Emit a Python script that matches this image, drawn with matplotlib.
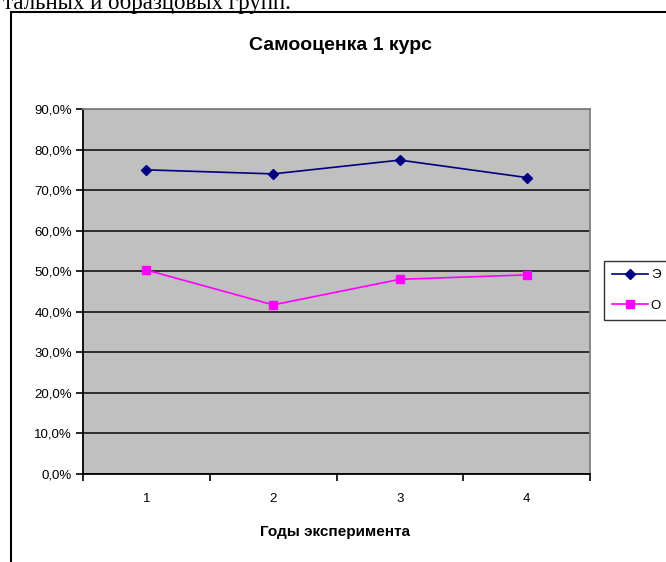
import matplotlib.pyplot as plt
from matplotlib.patches import Rectangle
from matplotlib.ticker import FixedLocator, FuncFormatter

plt.rcParams['font.family'] = ['Liberation Sans', 'DejaVu Sans']

years = [1, 2, 3, 4]
year_labels = ['1', '2', '3', '4']
exp_group = [75.0, 74.0, 77.4, 73.1]      # Э
sample_group = [50.3, 41.7, 48.0, 49.1]   # О
series_names = ['Э', 'О']

fig = plt.figure(figsize=(6.66, 5.62), dpi=100)

# text line of the document above the chart, cut by the top edge
fig.text(0.005, 1.0 - 9 / 562, 'тальных и образцовых групп.', family='Liberation Serif',
         fontsize=16.5, va='baseline', ha='left')

# chart frame
fig.patches.append(Rectangle((11 / 666, -0.1), 1.2, 1.0 - 12 / 562 + 0.1,
                             transform=fig.transFigure, fill=False,
                             edgecolor='black', linewidth=1.5))

ax = fig.add_axes([83 / 666, 1 - 474 / 562, (590 - 83) / 666, (474 - 109) / 562])
ax.set_facecolor('#C0C0C0')

ax.plot(years, exp_group, color='#000080', marker='D', markersize=5.5,
        linewidth=1.2, label=series_names[0])
ax.plot(years, sample_group, color='#FF00FF', marker='s', markersize=6,
        linewidth=1.2, label=series_names[1])

ax.set_xlim(0.5, 4.5)
ax.set_ylim(0, 90)
ax.yaxis.set_major_locator(FixedLocator(range(0, 91, 10)))
ax.yaxis.set_major_formatter(FuncFormatter(lambda v, p: f'{v:.1f}%'.replace('.', ',')))
ax.grid(axis='y', color='#222222', linewidth=1.3)
ax.set_axisbelow(True)

ax.set_xticks(years)
ax.set_xticklabels(year_labels)
ax.xaxis.set_minor_locator(FixedLocator([0.5, 1.5, 2.5, 3.5, 4.5]))
ax.tick_params(axis='x', which='major', length=0, pad=14, labelsize=9.5)
ax.tick_params(axis='x', which='minor', length=5, width=1.2, direction='out')
ax.tick_params(axis='y', length=5, width=1.2, direction='out', labelsize=9.5, pad=3)

for side in ['left', 'bottom']:
    ax.spines[side].set_color('black')
    ax.spines[side].set_linewidth(1.3)
for side in ['top', 'right']:
    ax.spines[side].set_color('#808080')
    ax.spines[side].set_linewidth(1.3)

fig.text(341 / 666, 1 - 45 / 562, 'Самооценка 1 курс', ha='center', va='center',
         fontsize=14, fontweight='bold')
fig.text(335 / 666, 1 - 532 / 562, 'Годы эксперимента', ha='center', va='center',
         fontsize=11, fontweight='bold')

leg = fig.legend(loc='upper left', bbox_to_anchor=(604 / 666, 1 - 261 / 562),
                 frameon=True, fancybox=False, edgecolor='black', fontsize=9.5,
                 handlelength=2.7, handletextpad=0.25, labelspacing=1.4,
                 borderpad=0.6, borderaxespad=0)
leg.get_frame().set_linewidth(1.0)

fig.savefig('out.png', dpi=100)
